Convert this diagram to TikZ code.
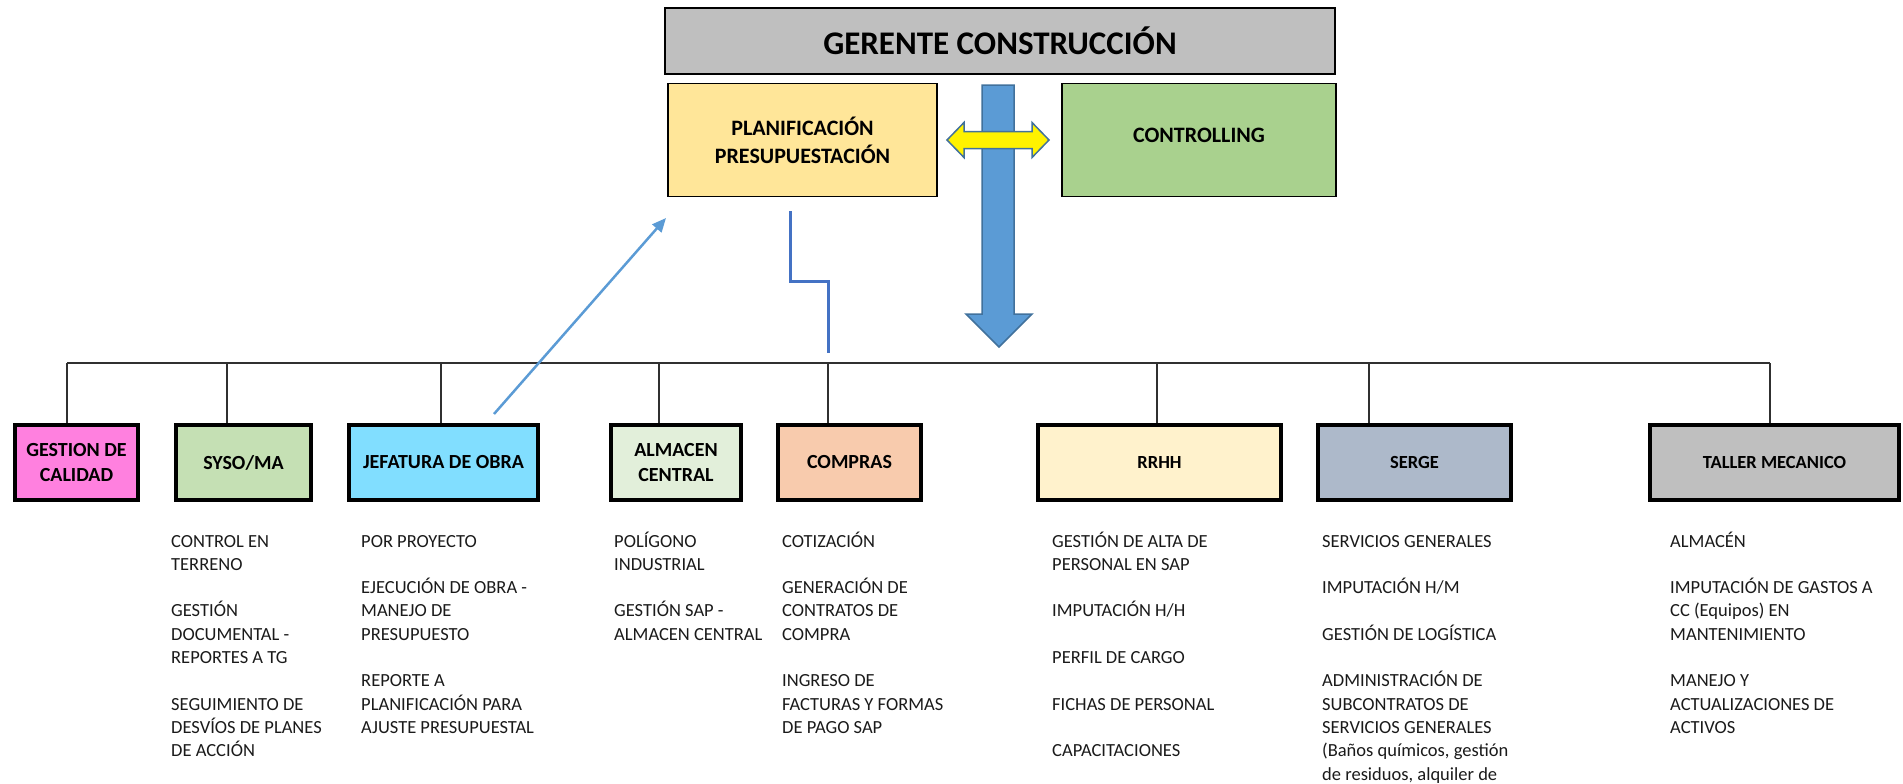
\documentclass[tikz,border=0pt]{standalone}
\usepackage{fontspec}
\setmainfont{Carlito}
\usetikzlibrary{arrows.meta,calc}
\definecolor{txt}{HTML}{1A1A1A}
\definecolor{gerfill}{HTML}{BFBFBF}
\definecolor{planfill}{HTML}{FFE699}
\definecolor{ctrlfill}{HTML}{A9D18E}
\definecolor{gcfill}{HTML}{FF80DF}
\definecolor{sysofill}{HTML}{C5E0B4}
\definecolor{jeffill}{HTML}{81DEFF}
\definecolor{almfill}{HTML}{E2EFDA}
\definecolor{compfill}{HTML}{F8CBAD}
\definecolor{rrhhfill}{HTML}{FFF2CC}
\definecolor{sergefill}{HTML}{ADB9CA}
\definecolor{tallerfill}{HTML}{BFBFBF}
\definecolor{bigblue}{HTML}{5B9BD5}
\definecolor{bigblueedge}{HTML}{41719C}
\definecolor{stepblue}{HTML}{4472C4}
\definecolor{lineblack}{HTML}{303030}
\newcommand\colitems[1]{\begin{tabular}[t]{@{}l@{}}#1\end{tabular}}
\tikzset{
  topbox/.style={draw=black, line width=1.5pt, inner sep=0pt, align=center},
  dept/.style={draw=black, line width=4pt, inner sep=0pt, minimum height=75, align=center,
    font=\bfseries\fontsize{20}{25.5}\selectfont},
  deptsmall/.style={dept, font=\bfseries\fontsize{18.5}{23}\selectfont},
  lst/.style={anchor=base west, inner sep=0pt, text=txt, font=\fontsize{18.5}{23.3}\selectfont},
  busline/.style={draw=lineblack, line width=1.5pt},
  dropline/.style={draw=lineblack, line width=1.2pt},
  bigarrow/.style={fill=bigblue, draw=bigblueedge, line width=1.5pt, line join=miter},
  yelarrow/.style={fill=yellow, draw=bigblueedge, line width=1.5pt, line join=miter},
  stepline/.style={draw=stepblue, line width=3pt},
  feedback/.style={draw=bigblue, line width=2.5pt, -{Triangle[length=14pt,width=12pt]}}
}
\begin{document}
\begin{tikzpicture}[x=1pt,y=-1pt]
\useasboundingbox (0,0) rectangle (1903,784);

% top boxes
\node[topbox, fill=gerfill, minimum width=670, minimum height=66,
      font=\bfseries\fontsize{33}{39}\selectfont] (ger) at (1000,41) {GERENTE CONSTRUCCIÓN};
\node[topbox, fill=planfill, minimum width=269, minimum height=113,
      font=\bfseries\fontsize{22}{28}\selectfont] (plan) at (802.5,140) {PLANIFICACIÓN\\PRESUPUESTACIÓN};
\node[topbox, fill=ctrlfill, minimum width=274, minimum height=113,
      font=\bfseries\fontsize{22}{28}\selectfont] (ctrl) at (1199,140) {\raisebox{5pt}[\height][\depth]{CONTROLLING}};

% big blue arrow
\draw[bigarrow] (982,85) -- (1014,85) -- (1014,314) -- (1032,314) -- (999,347)
   -- (966,314) -- (982,314) -- cycle;
% yellow double arrow
\draw[yelarrow] (947,140) -- (964,122.5) -- (964,131.5) -- (1032,131.5) -- (1032,122.5)
   -- (1049,140) -- (1032,157.5) -- (1032,148.5) -- (964,148.5) -- (964,157.5) -- cycle;

% bottom boxes
\node[dept, fill=gcfill, minimum width=123] (gc) at (76.5,462.5) {GESTION DE\\CALIDAD};
\node[dept, fill=sysofill, minimum width=135] (syso) at (243.5,462.5) {SYSO/MA};
\node[dept, fill=jeffill, minimum width=189] (jef) at (443.5,462.5) {JEFATURA DE OBRA};
\node[dept, fill=almfill, minimum width=130] (alm) at (676,462.5) {ALMACEN\\CENTRAL};
\node[dept, fill=compfill, minimum width=143] (comp) at (849.5,462.5) {COMPRAS};
\node[deptsmall, fill=rrhhfill, minimum width=243] (rrhh) at (1159.5,462.5) {RRHH};
\node[deptsmall, fill=sergefill, minimum width=193] (serge) at (1414.5,462.5) {SERGE};
\node[deptsmall, fill=tallerfill, minimum width=249] (taller) at (1774.5,462.5) {TALLER MECANICO};

% bus and drops
\coordinate (d1) at (67,363);
\coordinate (d2) at (227,363);
\coordinate (d3) at (441,363);
\coordinate (d4) at (659,363);
\coordinate (d5) at (828,363);
\coordinate (d6) at (1157,363);
\coordinate (d7) at (1369,363);
\coordinate (d8) at (1770,363);
\draw[busline] (d1) -- (d8);
\draw[dropline] (d1) -- (d1 |- gc.north);
\draw[dropline] (d2) -- (d2 |- syso.north);
\draw[dropline] (d3) -- (d3 |- jef.north);
\draw[dropline] (d4) -- (d4 |- alm.north);
\draw[dropline] (d5) -- (d5 |- comp.north);
\draw[dropline] (d6) -- (d6 |- rrhh.north);
\draw[dropline] (d7) -- (d7 |- serge.north);
\draw[dropline] (d8) -- (d8 |- taller.north);

% step line from planificacion towards bus
\coordinate (s0) at (790,211);
\coordinate (s1) at (828,353);
\draw[stepline] (s0) -- ++(0,70) -| (s1);

% feedback arrow from jefatura to planificacion
\coordinate (j0) at (494,414);
\coordinate (j1) at (666,218);
\draw[feedback] (j0) -- (j1);

% lists
\node[lst] (lsyso) at (171,547) {\colitems{CONTROL EN\\TERRENO\\{}\\GESTIÓN\\DOCUMENTAL -\\REPORTES A TG\\{}\\SEGUIMIENTO DE\\DESVÍOS DE PLANES\\DE ACCIÓN}};
\node[lst] (ljef) at (361,547) {\colitems{POR PROYECTO\\{}\\EJECUCIÓN DE OBRA -\\MANEJO DE\\PRESUPUESTO\\{}\\REPORTE A\\PLANIFICACIÓN PARA\\AJUSTE PRESUPUESTAL}};
\node[lst] (lalm) at (614,547) {\colitems{POLÍGONO\\INDUSTRIAL\\{}\\GESTIÓN SAP -\\ALMACEN CENTRAL}};
\node[lst] (lcomp) at (782,547) {\colitems{COTIZACIÓN\\{}\\GENERACIÓN DE\\CONTRATOS DE\\COMPRA\\{}\\INGRESO DE\\FACTURAS Y FORMAS\\DE PAGO SAP}};
\node[lst] (lrrhh) at (1052,547) {\colitems{GESTIÓN DE ALTA DE\\PERSONAL EN SAP\\{}\\IMPUTACIÓN H/H\\{}\\PERFIL DE CARGO\\{}\\FICHAS DE PERSONAL\\{}\\CAPACITACIONES}};
\node[lst] (lserge) at (1322,547) {\colitems{SERVICIOS GENERALES\\{}\\IMPUTACIÓN H/M\\{}\\GESTIÓN DE LOGÍSTICA\\{}\\ADMINISTRACIÓN DE\\SUBCONTRATOS DE\\SERVICIOS GENERALES\\(Baños químicos, gestión\\de residuos, alquiler de}};
\node[lst] (ltaller) at (1670,547) {\colitems{ALMACÉN\\{}\\IMPUTACIÓN DE GASTOS A\\CC (Equipos) EN\\MANTENIMIENTO\\{}\\MANEJO Y\\ACTUALIZACIONES DE\\ACTIVOS}};
\end{tikzpicture}
\end{document}
